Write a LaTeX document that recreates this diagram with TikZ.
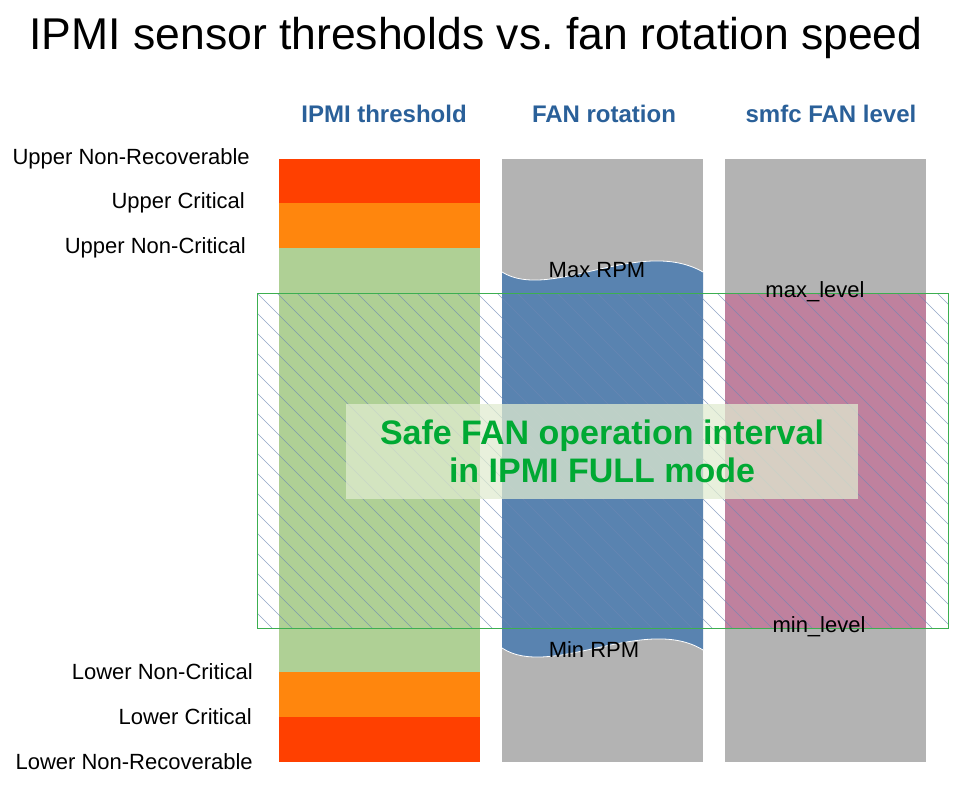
\documentclass[tikz,border=0pt]{standalone}
\usepackage{fontspec}
\setmainfont{Liberation Sans}
\frenchspacing
\definecolor{thred}{HTML}{FF4000}
\definecolor{thorange}{HTML}{FF860D}
\definecolor{thgreen}{HTML}{AFD095}
\definecolor{colgray}{HTML}{B3B3B3}
\definecolor{fanblue}{RGB}{89,131,176}
\definecolor{lvlpink}{RGB}{191,129,158}
\definecolor{hdrblue}{HTML}{2A6099}
\definecolor{safegreen}{HTML}{00A933}
\definecolor{hatchcol}{RGB}{110,135,180}
\definecolor{rectgreen}{RGB}{60,175,80}
\definecolor{boxfill}{RGB}{224,235,208}
\begin{document}
\begin{tikzpicture}[x=1pt,y=-1pt,
  hdr/.style={font=\fontsize{24}{28}\selectfont\bfseries, text=hdrblue},
  lbl/.style={font=\fontsize{22}{26}\selectfont, anchor=east, inner sep=0},
  inlbl/.style={font=\fontsize{22}{26}\selectfont, inner sep=0}]
\useasboundingbox (0,0) rectangle (969,790);
\fill[white] (0,0) rectangle (969,790);
% title
\node[font=\fontsize{44.5}{52}\selectfont] (title) at (476,38) {IPMI sensor thresholds vs. fan rotation speed};
% headers
\node[hdr] (h1) at (384,114) {IPMI threshold};
\node[hdr] (h2) at (604,114) {FAN rotation};
\node[hdr] (h3) at (831,114) {smfc FAN level};
% column 1
\fill[thred] (279,159) rectangle (480,203);
\fill[thorange] (279,203) rectangle (480,248);
\fill[thgreen] (279,248) rectangle (480,672);
\fill[thorange] (279,672) rectangle (480,717);
\fill[thred] (279,717) rectangle (480,762);
% column 2
\fill[colgray] (502,159) rectangle (703,762);
\fill[fanblue] (502,272) .. controls (550,302) and (640,236) .. (703,272) -- (703,650) .. controls (645,614) and (550,680) .. (502,648) -- cycle;
\draw[white, line width=0.8] (502,272) .. controls (550,302) and (640,236) .. (703,272);
\draw[white, line width=0.8] (703,650) .. controls (645,614) and (550,680) .. (502,648);
% column 3
\fill[colgray] (725,159) rectangle (926,762);
\fill[lvlpink] (725,293) rectangle (926,628);
% hatch
\begin{scope}
\clip (257,293) rectangle (948,628);
\foreach \k in {-18,...,36} {
  \draw[hatchcol, line width=0.4, draw opacity=0.75] (257+20*\k,293) -- (257+20*\k+335,628);
}
\end{scope}
\draw[rectgreen, line width=1] (257,293) rectangle (948,628);
% left labels
\node[lbl] (unr) at (250,159) {Upper Non-Recoverable};
\node[lbl] (uc) at (245,203) {Upper Critical};
\node[lbl] (unc) at (246,248) {Upper Non-Critical};
\node[lbl] (lnc) at (253,672) {Lower Non-Critical};
\node[lbl] (lc) at (252,717) {Lower Critical};
\node[lbl] (lnr) at (253,762) {Lower Non-Recoverable};
% inner labels
\node[inlbl] (maxrpm) at (597,270) {Max RPM};
\node[inlbl] (minrpm) at (594,650) {Min RPM};
\node[inlbl] (maxlvl) at (815,292) {max\_level};
\node[inlbl] (minlvl) at (819,627) {min\_level};
% safe box
\node[fill=boxfill, fill opacity=0.74, text opacity=1, minimum width=512, minimum height=95, inner sep=0,
  align=center, text=safegreen, font=\fontsize{34}{38}\selectfont\bfseries] (safe) at (602,451.5)
  {Safe FAN operation interval\\in IPMI FULL mode};
\end{tikzpicture}
\end{document}
